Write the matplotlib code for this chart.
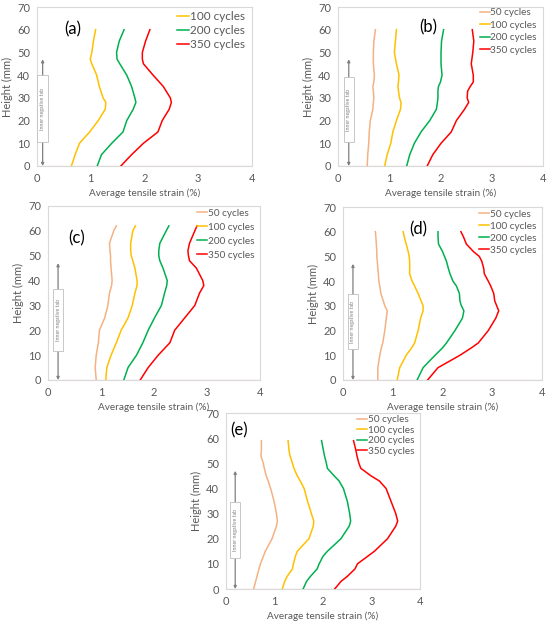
import matplotlib
matplotlib.use("Agg")
import matplotlib.pyplot as plt
from matplotlib.patches import Rectangle

plt.rcParams['font.family'] = ['Lato', 'DejaVu Sans']

# ---------------- data ----------------
a_h = [0, 5, 10, 15, 20, 25, 28, 30, 35, 40, 45, 47, 50, 55, 60]
a_100 = [0.64, 0.71, 0.79, 0.98, 1.14, 1.27, 1.28, 1.23, 1.16, 1.11, 1.02, 0.99, 1.02, 1.05, 1.09]
a_200 = [1.12, 1.20, 1.39, 1.60, 1.67, 1.79, 1.84, 1.82, 1.76, 1.67, 1.54, 1.49, 1.48, 1.53, 1.62]
a_350 = [1.56, 1.76, 1.98, 2.25, 2.33, 2.46, 2.50, 2.48, 2.35, 2.16, 1.98, 1.96, 1.96, 2.02, 2.10]

b_h = [0, 5, 10, 15, 20, 25, 28, 30, 33, 35, 37, 40, 45, 50, 55, 60]
b_50 = [0.57, 0.58, 0.60, 0.61, 0.63, 0.68, 0.69, 0.70, 0.69, 0.68, 0.70, 0.71, 0.69, 0.69, 0.70, 0.73]
b_100 = [0.91, 0.96, 1.03, 1.07, 1.14, 1.22, 1.23, 1.20, 1.18, 1.17, 1.18, 1.19, 1.14, 1.10, 1.12, 1.14]
b_200 = [1.34, 1.40, 1.49, 1.62, 1.79, 1.92, 1.94, 1.95, 1.95, 1.96, 2.00, 2.03, 2.01, 2.01, 2.02, 2.06]
b_350 = [1.74, 1.85, 2.01, 2.21, 2.31, 2.47, 2.55, 2.52, 2.53, 2.58, 2.64, 2.64, 2.60, 2.63, 2.65, 2.62]

c_h = [0, 5, 10, 15, 20, 25, 30, 35, 38, 40, 45, 48, 50, 52, 55, 60, 62]
c_50 = [0.91, 0.89, 0.91, 0.95, 0.97, 1.07, 1.13, 1.16, 1.20, 1.21, 1.19, 1.18, 1.18, 1.17, 1.16, 1.24, 1.29]
c_100 = [1.09, 1.11, 1.19, 1.29, 1.38, 1.51, 1.59, 1.64, 1.68, 1.68, 1.64, 1.60, 1.57, 1.56, 1.56, 1.60, 1.65]
c_200 = [1.43, 1.51, 1.67, 1.79, 1.89, 2.01, 2.14, 2.20, 2.24, 2.25, 2.17, 2.11, 2.09, 2.09, 2.11, 2.23, 2.28]
c_350 = [1.74, 1.89, 2.08, 2.30, 2.39, 2.58, 2.77, 2.86, 2.94, 2.92, 2.80, 2.67, 2.65, 2.64, 2.67, 2.77, 2.81]

d_h = [0, 5, 10, 13, 15, 20, 25, 28, 30, 32, 35, 38, 40, 43, 45, 48, 50, 52, 55, 58, 60]
d_50 = [0.70, 0.70, 0.74, 0.77, 0.80, 0.84, 0.87, 0.89, 0.84, 0.81, 0.76, 0.74, 0.72, 0.71, 0.70, 0.69, 0.68, 0.68, 0.67, 0.66, 0.65]
d_100 = [1.09, 1.14, 1.27, 1.38, 1.44, 1.51, 1.56, 1.61, 1.61, 1.57, 1.51, 1.44, 1.39, 1.34, 1.34, 1.34, 1.33, 1.31, 1.27, 1.23, 1.21]
d_200 = [1.49, 1.61, 1.85, 2.00, 2.08, 2.25, 2.40, 2.43, 2.38, 2.35, 2.34, 2.28, 2.21, 2.15, 2.12, 2.08, 2.04, 2.00, 1.92, 1.91, 1.91]
d_350 = [1.70, 1.91, 2.35, 2.58, 2.72, 2.92, 3.07, 3.13, 3.09, 3.05, 3.03, 2.97, 2.92, 2.84, 2.83, 2.79, 2.74, 2.62, 2.48, 2.42, 2.37]

e_h = [0, 3, 5, 8, 10, 13, 15, 20, 25, 27, 30, 35, 40, 43, 45, 48, 50, 53, 55, 59]
e_50 = [0.57, 0.61, 0.64, 0.68, 0.71, 0.77, 0.81, 0.95, 1.04, 1.06, 1.04, 0.99, 0.92, 0.87, 0.83, 0.79, 0.77, 0.72, 0.73, 0.73]
e_100 = [1.16, 1.21, 1.26, 1.37, 1.39, 1.43, 1.47, 1.71, 1.80, 1.81, 1.76, 1.68, 1.61, 1.53, 1.47, 1.40, 1.37, 1.32, 1.30, 1.28]
e_200 = [1.59, 1.66, 1.74, 1.88, 1.92, 2.00, 2.09, 2.37, 2.54, 2.57, 2.55, 2.50, 2.42, 2.33, 2.23, 2.09, 2.07, 2.03, 2.01, 1.97]
e_350 = [2.24, 2.37, 2.50, 2.66, 2.71, 2.92, 3.06, 3.33, 3.50, 3.54, 3.50, 3.40, 3.30, 3.16, 2.99, 2.78, 2.74, 2.70, 2.68, 2.63]

series_labels = ['50 cycles', '100 cycles', '200 cycles', '350 cycles']
x_ticks = [0, 1, 2, 3, 4]
y_ticks = [0, 10, 20, 30, 40, 50, 60, 70]
tab_label = 'Inner negative tab'

colors = {'50 cycles': '#F4B183', '100 cycles': '#FFC000',
          '200 cycles': '#00B050', '350 cycles': '#FF0000'}

W, H = 550, 622
fig = plt.figure(figsize=(W / 100, H / 100), dpi=100)


def rect(l, t, r, b):
    return [l / W, 1 - b / H, (r - l) / W, (b - t) / H]


panels = [
    dict(name='(a)', rect=rect(37, 7, 252, 166), h=a_h,
         series=[('100 cycles', a_100), ('200 cycles', a_200), ('350 cycles', a_350)],
         tag_xy=(0.50, 60), arrow_x=0.105, box=(10.6, 40), lfs=8.5, ls=0.25,
         legend_anchor=(1.0, 1.02)),
    dict(name='(b)', rect=rect(338, 7, 543, 166), h=b_h,
         series=[('50 cycles', b_50), ('100 cycles', b_100), ('200 cycles', b_200), ('350 cycles', b_350)],
         tag_xy=(1.59, 61), arrow_x=0.21, box=(10.6, 39), lfs=7.2, ls=0.35,
         legend_anchor=(1.0, 1.03)),
    dict(name='(c)', rect=rect(48, 206, 260, 380), h=c_h,
         series=[('50 cycles', c_50), ('100 cycles', c_100), ('200 cycles', c_200), ('350 cycles', c_350)],
         tag_xy=(0.38, 57), arrow_x=0.19, box=(11.7, 36.5), lfs=7.2, ls=0.5,
         legend_anchor=(1.0, 1.02)),
    dict(name='(d)', rect=rect(343, 207, 542, 380), h=d_h,
         series=[('50 cycles', d_50), ('100 cycles', d_100), ('200 cycles', d_200), ('350 cycles', d_350)],
         tag_xy=(1.34, 60.8), arrow_x=0.20, box=(12.4, 34.9), lfs=7.2, ls=0.3,
         legend_anchor=(1.0, 1.02)),
    dict(name='(e)', rect=rect(226, 413, 420, 589), h=e_h,
         series=[('50 cycles', e_50), ('100 cycles', e_100), ('200 cycles', e_200), ('350 cycles', e_350)],
         tag_xy=(0.08, 63), arrow_x=0.19, box=(12.5, 34.7), lfs=7.2, ls=0.15,
         legend_anchor=(1.0, 1.02)),
]

grey = '#595959'
for p in panels:
    ax = fig.add_axes(p['rect'])
    for lab, vals in p['series']:
        ax.plot(vals, p['h'], color=colors[lab], lw=1.1, label=lab, zorder=3)
    ax.axhline(0, color='#F8D3D3', lw=1.0, zorder=2)
    ax.set_xlim(0, 4)
    ax.set_ylim(0, 70)
    ax.set_xticks(x_ticks)
    ax.set_yticks(y_ticks)
    ax.tick_params(length=0, labelsize=8, colors=grey, pad=5)
    for s in ax.spines.values():
        s.set_color('#D9D9D9')
        s.set_linewidth(0.8)
    ax.set_xlabel('Average tensile strain (%)', fontsize=7.2, color=grey, labelpad=3)
    ax.set_ylabel('Height (mm)', fontsize=8, color=grey, labelpad=3)
    ax.text(p['tag_xy'][0], p['tag_xy'][1], p['name'], fontsize=12, color='black',
            ha='left', va='center')
    # inner negative tab marker
    ax.annotate('', xy=(p['arrow_x'], 0), xytext=(p['arrow_x'], 47),
                arrowprops=dict(arrowstyle='<|-|>', color='#7F7F7F', lw=0.9,
                                mutation_scale=4, shrinkA=0, shrinkB=0), zorder=4)
    y0, y1 = p['box']
    ax.add_patch(Rectangle((p['arrow_x'] - 0.1, y0), 0.2, y1 - y0, facecolor='white',
                           edgecolor='#BFBFBF', lw=0.6, zorder=5))
    ax.text(p['arrow_x'], (y0 + y1) / 2, tab_label, rotation=90, fontsize=3.8,
            color='#7F7F7F', ha='center', va='center', zorder=6)
    leg = ax.legend(loc='upper right', bbox_to_anchor=p['legend_anchor'], frameon=False,
                    fontsize=p['lfs'], handlelength=1.0, handletextpad=0.1,
                    labelspacing=p['ls'], borderaxespad=0.2)
    for t in leg.get_texts():
        t.set_color(grey)

fig.savefig('out.png', dpi=100, facecolor='white')
